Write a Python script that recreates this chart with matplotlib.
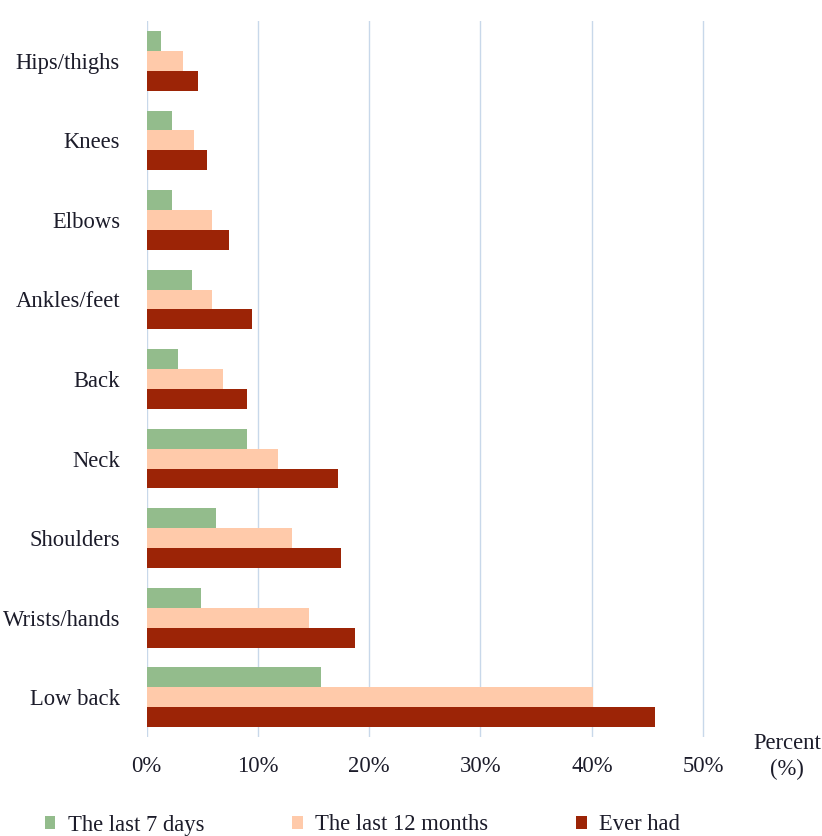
import matplotlib
matplotlib.use("Agg")
import matplotlib.pyplot as plt
import numpy as np
from matplotlib.patches import Patch

categories = ["Hips/thighs", "Knees", "Elbows", "Ankles/feet", "Back",
              "Neck", "Shoulders", "Wrists/hands", "Low back"]
last_7_days = [1.3, 2.3, 2.3, 4.1, 2.8, 9.0, 6.2, 4.9, 15.7]
last_12_months = [3.3, 4.3, 5.9, 5.9, 6.9, 11.8, 13.1, 14.6, 40.1]
ever_had = [4.6, 5.4, 7.4, 9.5, 9.0, 17.2, 17.5, 18.7, 45.7]
series_names = ["The last 7 days", "The last 12 months", "Ever had"]
xticks = [0, 10, 20, 30, 40, 50]
xtick_labels = ["0%", "10%", "20%", "30%", "40%", "50%"]

colors = ["#93BC8C", "#FFCAAA", "#9C2406"]
TXT = "#1C1C2A"

plt.rcParams['font.family'] = ['Liberation Serif', 'DejaVu Serif']
FS = 16.3

fig = plt.figure(figsize=(8.22, 8.36), dpi=100)
ax = fig.add_axes([146.5/822, 1-737/836, (704.5-146.5)/822, (737-21)/836])

y = np.arange(len(categories))
h = 0.25
for vals, off, c in zip([last_7_days, last_12_months, ever_had], [-h, 0, h], colors):
    ax.barh(y + off, vals, height=h, color=c, edgecolor='none', zorder=3)

ax.set_ylim(len(categories) - 0.5, -0.5)
ax.set_xlim(0, 50.12)
ax.set_yticks(y)
ax.set_yticklabels(categories, fontsize=FS)
ax.set_xticks(xticks)
ax.set_xticklabels(xtick_labels, fontsize=FS)
ax.tick_params(axis='both', length=0, colors=TXT)
ax.tick_params(axis='y', pad=19)
ax.tick_params(axis='x', pad=14)
ax.grid(axis='x', color='#C8D8EA', linewidth=1, zorder=0)
for s in ax.spines.values():
    s.set_visible(False)

fig.text(787/822, 1-757/836, "Percent\n(%)", ha='center', va='center',
         fontsize=FS, color=TXT, linespacing=1.3)

handles = [Patch(facecolor=c, edgecolor='none') for c in colors]
fig.legend(handles, series_names, loc='center left',
           bbox_to_anchor=(45/822, 1-825/836), ncol=3, frameon=False,
           fontsize=FS, handlelength=0.45, handleheight=0.45,
           handletextpad=0.55, columnspacing=3.9, borderpad=0, borderaxespad=0,
           labelcolor=TXT)

fig.savefig("out.png", dpi=100)
